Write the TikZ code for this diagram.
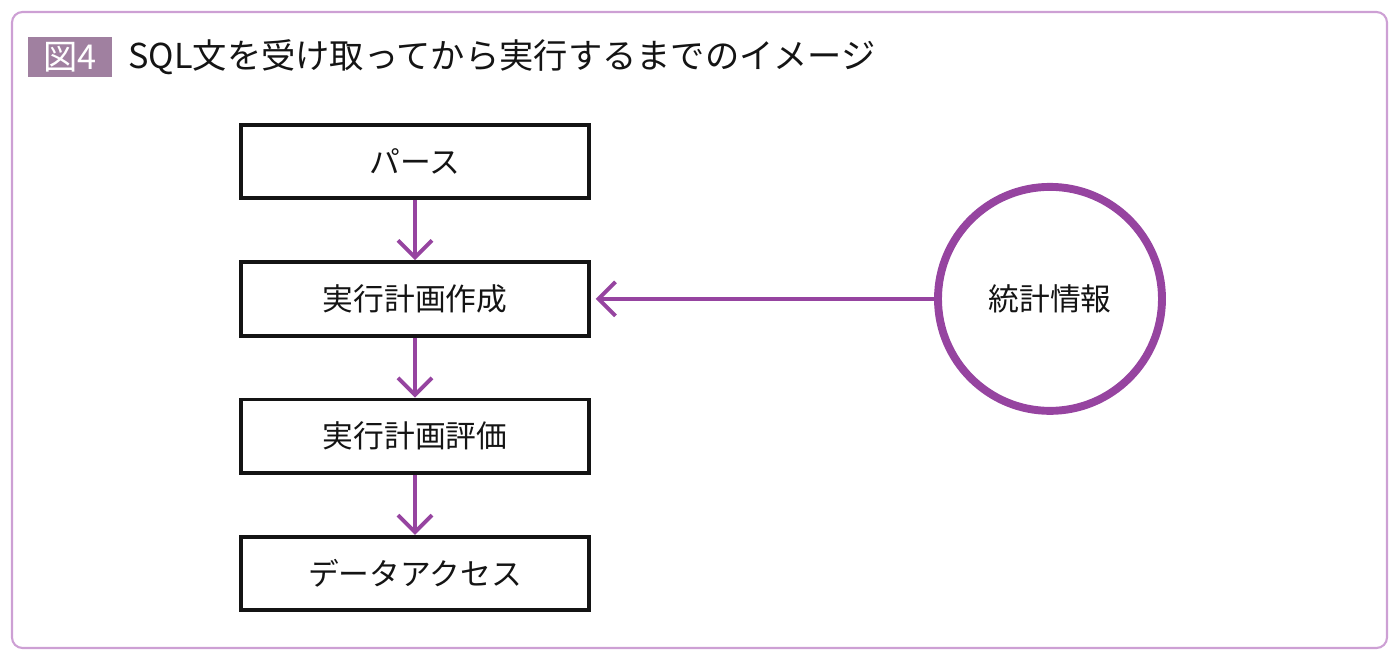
\documentclass[tikz,border=0pt]{standalone}
\usepackage{fontspec}
\setmainfont{Noto Sans CJK JP}
\usetikzlibrary{arrows.meta,positioning}
\definecolor{frame}{RGB}{205,160,212}
\definecolor{tagc}{RGB}{160,128,160}
\definecolor{flow}{RGB}{150,68,160}
\definecolor{ink}{RGB}{20,20,20}
\tikzset{
  stage/.style={draw=ink,line width=2.2pt,minimum width=6.95cm,minimum height=1.47cm,
    font=\fontsize{17.5}{20}\selectfont,text=ink,inner sep=0pt},
  stat/.style={circle,draw=flow,line width=4.5pt,minimum size=4.48cm,
    font=\fontsize{17.5}{20}\selectfont,text=ink,inner sep=0pt},
  arr/.style={-{Straight Barb[length=3.4mm,width=6.8mm,line width=2.2pt]},line width=2.2pt,draw=flow},
}
\begin{document}
\begin{tikzpicture}
        \useasboundingbox (0,0) rectangle (27.96,-13.12);
        \draw[frame,line width=1.2pt,rounded corners=6pt] (0.24,-0.24) rectangle (27.74,-12.96);
        % title
        \fill[tagc] (0.56,-0.74) rectangle (2.24,-1.54);
        \node[text=white,font=\fontsize{19.5}{22}\selectfont] (tag) at (1.40,-1.14) {図4};
        \node[anchor=west,text=ink,font=\fontsize{19.5}{22}\selectfont,inner sep=0pt] (title) at (2.56,-1.14)
          {SQL文を受け取ってから実行するまでのイメージ};
        % flow
        \node[stage] (parse) at (8.3,-3.23) {パース};
        \node[stage,below=1.2cm of parse] (plan) {実行計画作成};
        \node[stage,below=1.2cm of plan] (eval) {実行計画評価};
        \node[stage,below=1.2cm of eval] (access) {データアクセス};
        \node[stat] (stats) at (plan -| 21.0,0) {統計情報};
        \draw[arr] (parse) -- (plan);
        \draw[arr] (plan) -- (eval);
        \draw[arr] (eval) -- (access);
        \draw[arr] (stats.west) -- ([xshift=0.1cm]plan.east);
      \end{tikzpicture}
\end{document}
